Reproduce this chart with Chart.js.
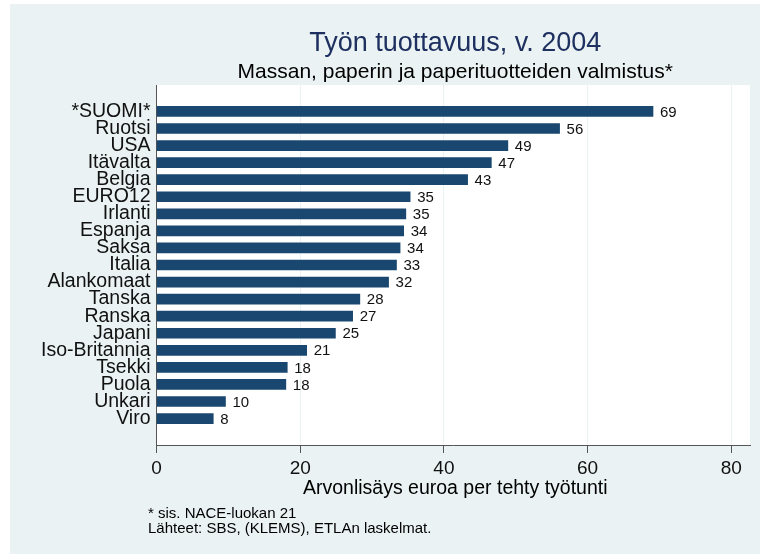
<!DOCTYPE html>
<html><head><meta charset="utf-8">
<script src="https://cdn.jsdelivr.net/npm/chart.js@4.4.1/dist/chart.umd.min.js"></script>
<style>html,body{margin:0;padding:0;background:#fff;} canvas{display:block;}</style>
</head><body>
<canvas id="c" width="760" height="554"></canvas>
<script>
const categories = ["*SUOMI*","Ruotsi","USA","Itävalta","Belgia","EURO12","Irlanti","Espanja","Saksa","Italia","Alankomaat","Tanska","Ranska","Japani","Iso-Britannia","Tsekki","Puola","Unkari","Viro"];
const values = [69.1,56.1,48.9,46.6,43.3,35.3,34.7,34.4,33.9,33.4,32.3,28.3,27.3,24.9,20.9,18.2,18.0,9.6,7.9];
const valueLabels = ["69","56","49","47","43","35","35","34","34","33","32","28","27","25","21","18","18","10","8"];
const xTicks = [0,20,40,60,80];
const titleText = "Työn tuottavuus, v. 2004";
const subtitleText = "Massan, paperin ja paperituotteiden valmistus*";
const xTitleText = "Arvonlisäys euroa per tehty työtunti";
const notes = ["* sis. NACE-luokan 21", "Lähteet: SBS, (KLEMS), ETLAn laskelmat."];

const FONT = '"Liberation Sans", Arial, Helvetica, sans-serif';
const BG = '#eaf2f3';

const bgPlugin = {
  id: 'bg',
  beforeDraw(chart) {
    const ctx = chart.ctx, a = chart.chartArea;
    ctx.save();
    ctx.fillStyle = '#ffffff';
    ctx.fillRect(0, 0, chart.width, chart.height);
    ctx.fillStyle = BG;
    ctx.fillRect(10, 4, chart.width - 10, chart.height - 4);
    ctx.fillStyle = '#ffffff';
    ctx.fillRect(a.left, a.top, a.right - a.left, a.bottom - a.top);
    ctx.restore();
  }
};

const valuePlugin = {
  id: 'vals',
  afterDatasetsDraw(chart) {
    const ctx = chart.ctx;
    const meta = chart.getDatasetMeta(0);
    ctx.save();
    ctx.font = '15px ' + FONT;
    ctx.fillStyle = '#111';
    ctx.textAlign = 'left';
    ctx.textBaseline = 'middle';
    meta.data.forEach((el, i) => {
      ctx.fillText(valueLabels[i], el.x + 7, el.y + 1);
    });
    ctx.restore();
  }
};

const textPlugin = {
  id: 'texts',
  afterDraw(chart) {
    const ctx = chart.ctx, a = chart.chartArea;
    const cx = (a.left + a.right) / 2 + 2;
    ctx.save();
    ctx.textAlign = 'center';
    ctx.textBaseline = 'alphabetic';
    ctx.fillStyle = '#1e3060';
    ctx.font = '27px ' + FONT;
    ctx.fillText(titleText, cx, 51);
    ctx.fillStyle = '#000';
    ctx.font = '21px ' + FONT;
    ctx.fillText(subtitleText, cx, 78);
    ctx.font = '19.5px ' + FONT;
    ctx.fillText(xTitleText, cx, 494);
    ctx.textAlign = 'left';
    ctx.font = '15px ' + FONT;
    ctx.fillText(notes[0], 148, 518);
    ctx.fillText(notes[1], 148, 533);
    ctx.restore();
  }
};

new Chart(document.getElementById('c'), {
  type: 'bar',
  data: {
    datasets: [{
      data: values.map((v, i) => ({x: v, y: i})),
      backgroundColor: '#1a476f',
      borderWidth: 0,
      barThickness: 10
    }]
  },
  options: {
    indexAxis: 'y',
    responsive: false,
    animation: false,
    layout: {padding: {left: 0, top: 85, right: 10, bottom: 0}},
    plugins: {legend: {display: false}, tooltip: {enabled: false}, title: {display: false}},
    scales: {
      x: {
        type: 'linear',
        min: 0, max: 82.6,
        afterBuildTicks(axis) { axis.ticks = xTicks.map(v => ({value: v})); },
        afterFit(axis) { axis.height = 109; },
        grid: {color: BG, lineWidth: 1, tickColor: '#555', tickLength: 8, drawOnChartArea: true},
        border: {display: true, color: '#555', width: 1},
        ticks: {font: {family: FONT, size: 19}, color: '#111', padding: 4, maxRotation: 0}
      },
      y: {
        type: 'linear',
        reverse: true,
        offset: false,
        min: -1.55, max: 19.55,
        afterBuildTicks(axis) { axis.ticks = categories.map((c, i) => ({value: i})); },
        afterFit(axis) { axis.width = 156.5; },
        grid: {display: false, drawTicks: false, offset: false},
        border: {display: true, color: '#555', width: 1},
        ticks: {
          autoSkip: false,
          font: {family: FONT, size: 19.5},
          color: '#111',
          padding: 6,
          callback: (v) => categories[v]
        }
      }
    }
  },
  plugins: [bgPlugin, valuePlugin, textPlugin]
});
</script>
</body></html>
